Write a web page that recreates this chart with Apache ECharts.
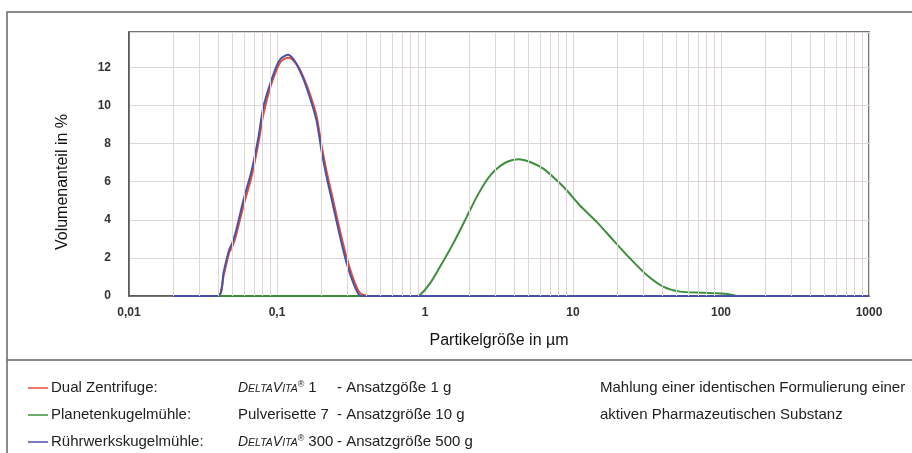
<!DOCTYPE html>
<html>
<head>
<meta charset="utf-8">
<title>Partikelgrößenverteilung</title>
<script src="https://cdn.jsdelivr.net/npm/echarts@6/dist/echarts.min.js"></script>
<style>
  html, body { margin: 0; padding: 0; background: #fff; }
  #chart { width: 912px; height: 453px; }
</style>
</head>
<body>
<div id="chart"></div>
<script>
// x 轴刻度标签 (log axis, 0.01 .. 1000 µm)
const xTickLabels = ['0,01', '0,1', '1', '10', '100', '1000'];

// Dual Zentrifuge (DeltaVita 1) – Partikelgröße µm / Volumenanteil %
const dualSizes = [0.02, 0.040, 0.0437, 0.0474, 0.050, 0.053, 0.0592, 0.0675, 0.0748, 0.0808, 0.0897, 0.0998,
  0.106, 0.113, 0.119, 0.125, 0.1325, 0.14, 0.1506, 0.167, 0.185, 0.2, 0.217, 0.24, 0.267, 0.296, 0.328,
  0.36, 0.39, 0.42, 1000];
const dualValues = [0, 0, 1.1, 2.25, 2.6, 3.2, 4.7, 6.3, 8.0, 9.5, 10.9, 11.9,
  12.3, 12.45, 12.5, 12.45, 12.25, 12.0, 11.5, 10.6, 9.45, 7.9, 6.5, 5.0, 3.4, 2.0, 0.9,
  0.2, 0.04, 0, 0];

// Planetenkugelmühle (Pulverisette 7)
const planetSizes = [0.04, 0.87, 0.925, 1.081, 1.263, 1.553, 1.914, 2.235, 2.61, 2.97, 3.56, 4.27, 5.12,
  6.3, 7.76, 9.06, 11.1, 14.45, 18.7, 24.3, 31.5, 40.7, 52.8, 75.9, 93.3, 115, 128];
const planetValues = [0, 0, 0.05, 0.66, 1.53, 2.76, 4.15, 5.2, 6.07, 6.6, 7.03, 7.17, 7.03,
  6.68, 6.07, 5.55, 4.76, 3.89, 2.93, 1.97, 1.1, 0.49, 0.23, 0.17, 0.14, 0.08, 0];

// Rührwerkskugelmühle (DeltaVita 300)
const stirredSizes = [0.02, 0.040, 0.0437, 0.0474, 0.050, 0.053, 0.0592, 0.0675, 0.0748, 0.0808, 0.0897, 0.0998,
  0.106, 0.113, 0.119, 0.125, 0.1325, 0.14, 0.1506, 0.167, 0.185, 0.2, 0.217, 0.24, 0.267, 0.296, 0.328,
  0.36, 0.39, 0.42, 1000];
const stirredValues = [0, 0, 1.3, 2.4, 2.8, 3.45, 5.0, 6.6, 8.3, 9.9, 11.1, 12.1,
  12.45, 12.6, 12.65, 12.55, 12.3, 11.95, 11.4, 10.4, 9.2, 7.6, 6.2, 4.7, 3.1, 1.7, 0.68,
  0.05, 0, 0, 0];

const colors = { dual: '#e8503a', planet: '#3d8f3d', stirred: '#4a52a8' };
const gridColor = '#ddd6d6';
const FONT = '"Liberation Sans", Arial, sans-serif';

// zip sizes/values into [x, y] pairs for the log axis
function pairs(sizes, values) {
  return sizes.map((s, i) => [s, values[i]]);
}

// minor log grid lines 2..9 per decade (axis decoration, not data)
function minorGridLines() {
  const lines = [];
  for (let d = -2; d < 3; d++) {
    for (let m = 2; m <= 9; m++) {
      lines.push({ xAxis: +(m * Math.pow(10, d)).toPrecision(3) });
    }
  }
  return lines;
}

function lineSeries(name, data, color, z) {
  return {
    name,
    type: 'line',
    data,
    z,
    smooth: 0.25,
    showSymbol: false,
    lineStyle: { width: 2, color },
    itemStyle: { color },
    emphasis: { disabled: true },
    animation: false
  };
}

// one legend row: coloured line + text columns
function legendRow(y, color, label, device, batch) {
  const base = { fill: '#222', font: '15px ' + FONT, verticalAlign: 'middle' };
  return [
    { type: 'line', shape: { x1: 28, y1: y, x2: 48, y2: y }, style: { stroke: color, lineWidth: 1.5 } },
    { type: 'text', x: 51, y, style: Object.assign({ text: label }, base) },
    { type: 'text', x: 238, y, style: Object.assign({}, base, device) },
    { type: 'text', x: 337, y, style: Object.assign({ text: batch }, base) }
  ];
}

// DELTAVITA® in italic small caps
function deltaVita(suffix) {
  const tok = (size, extra) => Object.assign({ fontSize: size, fontFamily: FONT, fill: '#222', verticalAlign: 'bottom' }, extra);
  return {
    text: '{b|D}{s|ELTA}{b|V}{s|ITA}{r|®}{n|' + suffix + '}',
    rich: {
      b: tok(14, { fontStyle: 'italic' }),
      s: tok(10.5, { fontStyle: 'italic', padding: [0, 0, 0.5, 0] }),
      r: tok(9, { padding: [0, 4, 6, 0] }),
      n: tok(15, {})
    }
  };
}

function buildOption() {
  const graphic = [
    { type: 'rect', shape: { x: 7, y: 12, width: 1000, height: 1000 }, style: { fill: 'none', stroke: '#666', lineWidth: 1.5 }, z: -1 },
    { type: 'line', shape: { x1: 7, y1: 360, x2: 912, y2: 360 }, style: { stroke: '#666', lineWidth: 1.5 } },
    {
      type: 'text', x: 63, y: 182, rotation: Math.PI / 2,
      style: { text: 'Volumenanteil in %', font: '16px ' + FONT, fill: '#111', align: 'center', verticalAlign: 'middle' }
    },
    ...legendRow(388, colors.dual, 'Dual Zentrifuge:', deltaVita('1'), '- Ansatzgöße 1 g'),
    ...legendRow(415, colors.planet, 'Planetenkugelmühle:', { text: 'Pulverisette 7' }, '- Ansatzgröße 10 g'),
    ...legendRow(442, colors.stirred, 'Rührwerkskugelmühle:', deltaVita('300'), '- Ansatzgröße 500 g'),
    { type: 'text', x: 600, y: 388, style: { text: 'Mahlung einer identischen Formulierung einer', font: '15px ' + FONT, fill: '#222', verticalAlign: 'middle' } },
    { type: 'text', x: 600, y: 415, style: { text: 'aktiven Pharmazeutischen Substanz', font: '15px ' + FONT, fill: '#222', verticalAlign: 'middle' } }
  ];

  return {
    backgroundColor: '#fff',
    animation: false,
    grid: { left: 129, right: 43, top: 32, bottom: 157, show: true, borderColor: '#4a4a4a', borderWidth: 1.5 },
    xAxis: {
      type: 'log',
      logBase: 10,
      min: 0.01,
      max: 1000,
      name: 'Partikelgröße in µm',
      nameLocation: 'middle',
      nameGap: 37,
      nameTextStyle: { fontSize: 16, color: '#111', fontFamily: FONT },
      axisLine: { show: true, lineStyle: { color: '#555', width: 1.5 } },
      axisTick: { show: false },
      axisLabel: {
        fontSize: 12, fontWeight: 'bold', color: '#333', fontFamily: FONT, margin: 11,
        formatter: (v, i) => xTickLabels[i] ?? ''
      },
      splitLine: { show: true, lineStyle: { color: gridColor, width: 1 } }
    },
    yAxis: {
      type: 'value',
      min: 0,
      max: 13.85,
      interval: 2,
      axisLine: { show: true, lineStyle: { color: '#555', width: 1.5 } },
      axisTick: { show: false },
      axisLabel: { fontSize: 12, fontWeight: 'bold', color: '#333', fontFamily: FONT, margin: 18, showMaxLabel: false },
      splitLine: { show: true, lineStyle: { color: gridColor, width: 1 } }
    },
    series: [
      {
        // minor log gridlines only
        type: 'line',
        data: [],
        z: 1,
        silent: true,
        markLine: {
          silent: true,
          symbol: 'none',
          animation: false,
          label: { show: false },
          lineStyle: { color: gridColor, width: 1, type: 'solid' },
          emphasis: { disabled: true },
          data: minorGridLines()
        }
      },
      lineSeries('Planetenkugelmühle', pairs(planetSizes, planetValues), colors.planet, 2),
      lineSeries('Dual Zentrifuge', pairs(dualSizes, dualValues), colors.dual, 3),
      lineSeries('Rührwerkskugelmühle', pairs(stirredSizes, stirredValues), colors.stirred, 4)
    ],
    graphic
  };
}

const chart = echarts.init(document.getElementById('chart'), null, { renderer: 'canvas' });
chart.setOption(buildOption());
</script>
</body>
</html>
